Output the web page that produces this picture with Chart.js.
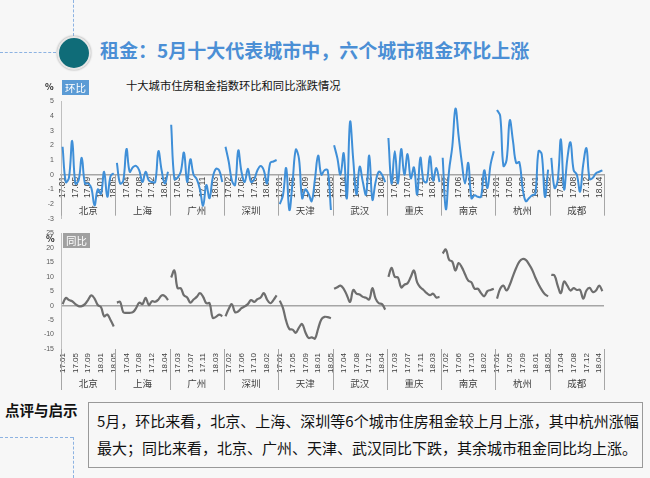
<!DOCTYPE html>
<html>
<head>
<meta charset="utf-8">
<script src="https://cdn.jsdelivr.net/npm/chart.js@4.4.0/dist/chart.umd.min.js"></script>
<style>
  body { margin: 0; width: 650px; height: 478px; background: #f7f7f7; position: relative; overflow: hidden;
         font-family: "Noto Sans CJK SC", "Noto Sans", sans-serif; }
  .abs { position: absolute; }
  .dash-v { position: absolute; border-left: 1px dashed #8db3e2; width: 0; }
  .dash-h { position: absolute; border-top: 1px dashed #8db3e2; height: 0; }
  #dot { left: 57px; top: 36px; width: 30px; height: 30px; border-radius: 50%; background: #0f6c78;
         border: 2px solid #e6e6e6; box-shadow: 0 0 2px #999; }
  #title { left: 100px; top: 36px; font-size: 19px; font-weight: bold; color: #4b8fd5; line-height: 28px; white-space: nowrap; }
  #sub { left: 126px; top: 77px; font-size: 11.3px; color: #111; white-space: nowrap; }
  .pct { font-size: 9px; color: #222; font-weight: bold; line-height: 9px; }
  .badge { font-size: 10.5px; color: #fff; padding: 0 3px; line-height: 15px; }
  #note { left: 5px; top: 399px; font-size: 14.5px; font-weight: bold; color: #111; white-space: nowrap; }
  #box { left: 88px; top: 402px; width: 553px; height: 64px; border: 1.5px solid #999; }
  #box p { margin: 0; position: absolute; left: 8px; font-size: 15px; color: #111; white-space: nowrap; line-height: 20px; }
  canvas { position: absolute; left: 0; }
</style>
</head>
<body>
<div class="dash-v" style="left:73px;top:0;height:36px"></div>
<div class="dash-h" style="left:0;top:52px;width:56px"></div>
<div id="dot" class="abs"></div>
<div id="title" class="abs">租金：5月十大代表城市中，六个城市租金环比上涨</div>
<div id="sub" class="abs">十大城市住房租金指数环比和同比涨跌情况</div>

<canvas id="momChart" width="650" height="140" style="top:90px"></canvas>
<canvas id="yoyChart" width="650" height="172" style="top:222px"></canvas>

<div class="abs pct" style="left:45px;top:82px">%</div>
<div class="abs badge" style="left:62px;top:80px;background:#5b9bd5">环比</div>
<div class="abs pct" style="left:46px;top:234px">%</div>
<div class="abs badge" style="left:63px;top:233px;background:#a0a0a0">同比</div>

<div id="note" class="abs">点评与启示</div>
<div id="box" class="abs">
  <p style="top:8px">5月，环比来看，北京、上海、深圳等6个城市住房租金较上月上涨，其中杭州涨幅</p>
  <p style="top:35px">最大；同比来看，北京、广州、天津、武汉同比下跌，其余城市租金同比均上涨。</p>
</div>
<div class="dash-h" style="left:0;top:437px;width:73px"></div>
<div class="dash-v" style="left:73px;top:437px;height:41px"></div>

<script>
const cities = ['北京', '上海', '广州', '深圳', '天津', '武汉', '重庆', '南京', '杭州', '成都'];
const months = ['17.01', '17.02', '17.03', '17.04', '17.05', '17.06', '17.07', '17.08', '17.09',
                '17.10', '17.11', '17.12', '18.01', '18.02', '18.03', '18.04', '18.05'];

// 环比 (%), one array per city, 17.01 - 18.05
const momBeijing   = [1.9, -0.5, -0.2, 2.3, -0.6, -0.4, 1.15, -0.6, -0.6, -0.9, -2.1, -1.0, -1.3, 0.2, -1.5, -0.1, 0.1];
const momShanghai  = [0.8, -0.6, -0.4, 1.75, 0.2, 0.5, 0.6, 0.3, -0.5, 0.2, -0.4, -0.5, -0.5, 1.6, 0.3, -0.6, 0.2];
const momGuangzhou = [3.4, -0.3, -0.2, 0.2, 1.5, -0.5, 1.05, 0.0, -0.3, -1.0, -2.1, -0.7, -1.6, -0.2, 0.4, 0.3, -0.5];
const momShenzhen  = [1.9, 0.9, -0.4, -0.7, 1.65, 0.2, -0.5, 0.4, -0.5, -0.3, 0.3, 0.6, 0.3, -0.6, 0.8, 0.9, 1.0];
const momTianjin   = [-2.0, -1.4, 0.45, -2.4, -0.5, 1.7, 1.1, -1.6, -1.0, -1.3, -1.8, -0.3, 1.3, 0.0, 0.3, 0.3, -2.4];
const momWuhan     = [2.0, 1.15, 0.0, 1.45, -1.6, 3.6, 1.0, -1.35, 0.55, -0.5, -1.35, 1.3, -1.7, -0.5, 0.2, 0.0, -0.5];
const momChongqing = [2.5, -0.6, 1.6, -0.6, 1.75, 0.0, 1.4, -0.25, 0.5, -1.35, 1.15, -0.4, -0.5, 1.25, -0.4, 0.45, -0.5];
const momNanjing   = [1.15, -2.35, 0.3, 1.9, 4.5, 2.6, 0.8, -0.6, 0.8, -1.6, -1.4, -1.5, -1.5, 0.3, -0.9, 0.7, 1.6];
const momHangzhou  = [4.4, 4.0, 0.6, 1.0, 3.7, 2.3, 0.8, 0.85, -0.9, -1.8, -1.6, -1.4, -1.3, 1.6, 1.4, -1.5, 0.35];
const momChengdu   = [1.15, -0.9, -0.4, 2.4, -1.0, 1.05, 2.2, 0.3, 0.0, -1.15, 0.7, 1.8, -0.3, -0.2, 0.1, 0.2, 0.3];

// 同比 (%)
const yoyBeijing   = [0.5, 2.6, 1.9, 1.5, 0.5, -0.2, -0.2, 0.5, 2.0, 3.5, 2.4, 0.2, -0.5, -3.7, -3.1, -5.0, -7.2];
const yoyShanghai  = [1.0, 1.3, -2.3, -2.5, -2.5, -2.3, -0.9, 1.0, 0.5, 2.7, 0.2, 1.5, 1.3, 2.1, 3.5, 3.3, 1.9];
const yoyGuangzhou = [9.7, 12.1, 6.0, 6.0, 3.5, 2.8, 1.0, 2.1, 3.0, 4.3, 3.0, 0.8, 0.8, -4.2, -3.9, -3.1, -3.7];
const yoyShenzhen  = [-3.7, -1.2, 0.5, -2.3, -2.0, -0.9, -0.3, 0.5, 1.9, 1.3, 2.2, 2.8, 4.3, 2.1, 0.8, 1.9, 3.5];
const yoyTianjin   = [1.7, -0.9, -5.3, -8.1, -8.3, -9.4, -7.6, -6.4, -9.2, -11.2, -11.0, -11.4, -8.0, -4.8, -3.9, -4.0, -4.4];
const yoyWuhan     = [5.8, 6.3, 6.9, 5.8, 3.6, 1.3, 5.4, 4.1, 3.8, 3.0, 2.7, 2.1, 6.0, 2.4, 0.8, 0.5, -1.4];
const yoyChongqing = [9.9, 13.0, 9.9, 9.7, 6.3, 7.2, 7.7, 9.9, 12.1, 8.0, 6.3, 5.4, 4.3, 3.6, 4.1, 2.8, 3.0];
const yoyNanjing   = [18.0, 19.4, 15.8, 15.2, 12.1, 14.7, 13.2, 10.8, 8.6, 8.0, 5.8, 5.8, 4.3, 3.2, 5.0, 5.4, 5.8];
const yoyHangzhou  = [2.4, 5.8, 6.9, 5.2, 7.2, 10.2, 13.0, 15.2, 16.1, 15.8, 14.3, 12.4, 9.7, 7.4, 5.4, 3.9, 3.2];
const yoyChengdu   = [10.6, 10.4, 6.9, 4.3, 8.3, 6.9, 5.2, 6.0, 5.4, 5.4, 2.4, 5.2, 6.1, 4.7, 5.2, 6.9, 5.0];

const momTicks = [-3, -2, -1, 0, 1, 2, 3, 4, 5];
const yoyTicks = [-15, -10, -5, 0, 5, 10, 15, 20, 25];

const momSeries = [momBeijing, momShanghai, momGuangzhou, momShenzhen, momTianjin,
                   momWuhan, momChongqing, momNanjing, momHangzhou, momChengdu];
const yoySeries = [yoyBeijing, yoyShanghai, yoyGuangzhou, yoyShenzhen, yoyTianjin,
                   yoyWuhan, yoyChongqing, yoyNanjing, yoyHangzhou, yoyChengdu];

// one category per city-month, so every city gets its own stretch of the x axis
const labels = [];
cities.forEach(() => months.forEach(m => labels.push(m)));

function cityDatasets(series, color, width) {
  return series.map((vals, k) => {
    const data = new Array(labels.length).fill(null);
    vals.forEach((v, i) => { data[k * months.length + i] = v; });
    return { label: cities[k], data: data, borderColor: color, borderWidth: width,
             tension: 0.4, pointRadius: 0, spanGaps: false, fill: false };
  });
}

// city separators + city names under the month ticks
const cityAxis = {
  id: 'cityAxis',
  afterDraw(chart, args, opts) {
    const x = chart.scales.x, area = chart.chartArea, ctx = chart.ctx;
    const n = months.length;
    const top = opts.fromZero ? chart.scales.y.getPixelForValue(0) : area.bottom;
    ctx.save();
    ctx.strokeStyle = '#a6a6a6';
    ctx.lineWidth = 1;
    for (let k = 0; k <= cities.length; k++) {
      let px;
      if (k === 0) px = area.left;
      else if (k === cities.length) px = area.right;
      else px = (x.getPixelForValue(k * n - 1) + x.getPixelForValue(k * n)) / 2;
      ctx.beginPath();
      ctx.moveTo(Math.round(px) + 0.5, top);
      ctx.lineTo(Math.round(px) + 0.5, top + opts.lineLen);
      ctx.stroke();
    }
    ctx.fillStyle = '#404040';
    ctx.font = '9.5px "Noto Sans CJK SC"';
    ctx.textAlign = 'center';
    ctx.textBaseline = 'middle';
    cities.forEach((c, k) => {
      ctx.fillText(c, x.getPixelForValue(k * n + 8), top + opts.textOffset);
    });
    ctx.restore();
  }
};

function monthTick(v, i) {
  return i % 4 === 0 ? this.getLabelForValue(v) : null;
}

new Chart(document.getElementById('momChart'), {
  type: 'line',
  data: { labels: labels, datasets: cityDatasets(momSeries, '#3f8fd8', 2) },
  plugins: [cityAxis],
  options: {
    responsive: false,
    animation: false,
    layout: { padding: { top: 8, bottom: 10, left: 0, right: 46 } },
    plugins: {
      legend: { display: false },
      tooltip: { enabled: false },
      cityAxis: { fromZero: true, lineLen: 41, textOffset: 36 }
    },
    scales: {
      x: {
        position: { y: 0 },
        offset: true,
        grid: { display: false, drawTicks: false },
        border: { display: true, color: '#a6a6a6', width: 1.5 },
        ticks: { autoSkip: false, minRotation: 90, maxRotation: 90, padding: 2,
                 color: '#404040', font: { size: 8.5, family: 'Liberation Sans' }, callback: monthTick }
      },
      y: {
        min: momTicks[0], max: momTicks[momTicks.length - 1],
        afterFit: s => { s.width = 61; },
        afterBuildTicks: s => { s.ticks = momTicks.map(v => ({ value: v })); },
        grid: { display: false, drawTicks: false },
        border: { display: true, color: '#bfbfbf', width: 1 },
        ticks: { color: '#595959', padding: 7, font: { size: 7, family: 'Liberation Sans' } }
      }
    }
  }
});

new Chart(document.getElementById('yoyChart'), {
  type: 'line',
  data: { labels: labels, datasets: cityDatasets(yoySeries, '#6e6e6e', 2.2) },
  plugins: [cityAxis],
  options: {
    responsive: false,
    animation: false,
    layout: { padding: { top: 7, bottom: 0, left: 0, right: 46 } },
    plugins: {
      legend: { display: false },
      tooltip: { enabled: false },
      cityAxis: { fromZero: false, lineLen: 41, textOffset: 34 }
    },
    scales: {
      x: {
        offset: true,
        afterFit: s => { s.height = 45; },
        grid: { display: false, drawTicks: false },
        border: { display: false },
        ticks: { autoSkip: false, minRotation: 90, maxRotation: 90, padding: 4,
                 color: '#404040', font: { size: 8, family: 'Liberation Sans' }, callback: monthTick }
      },
      y: {
        min: yoyTicks[0], max: yoyTicks[yoyTicks.length - 1],
        afterFit: s => { s.width = 61; },
        afterBuildTicks: s => { s.ticks = yoyTicks.map(v => ({ value: v })); },
        grid: { display: true, drawTicks: false, lineWidth: 1.5,
                color: c => (c.tick && c.tick.value === 0 ? '#a6a6a6' : 'rgba(0,0,0,0)') },
        border: { display: true, color: '#bfbfbf', width: 1 },
        ticks: { color: '#595959', padding: 7, font: { size: 7, family: 'Liberation Sans' } }
      }
    }
  }
});
</script>
</body>
</html>
